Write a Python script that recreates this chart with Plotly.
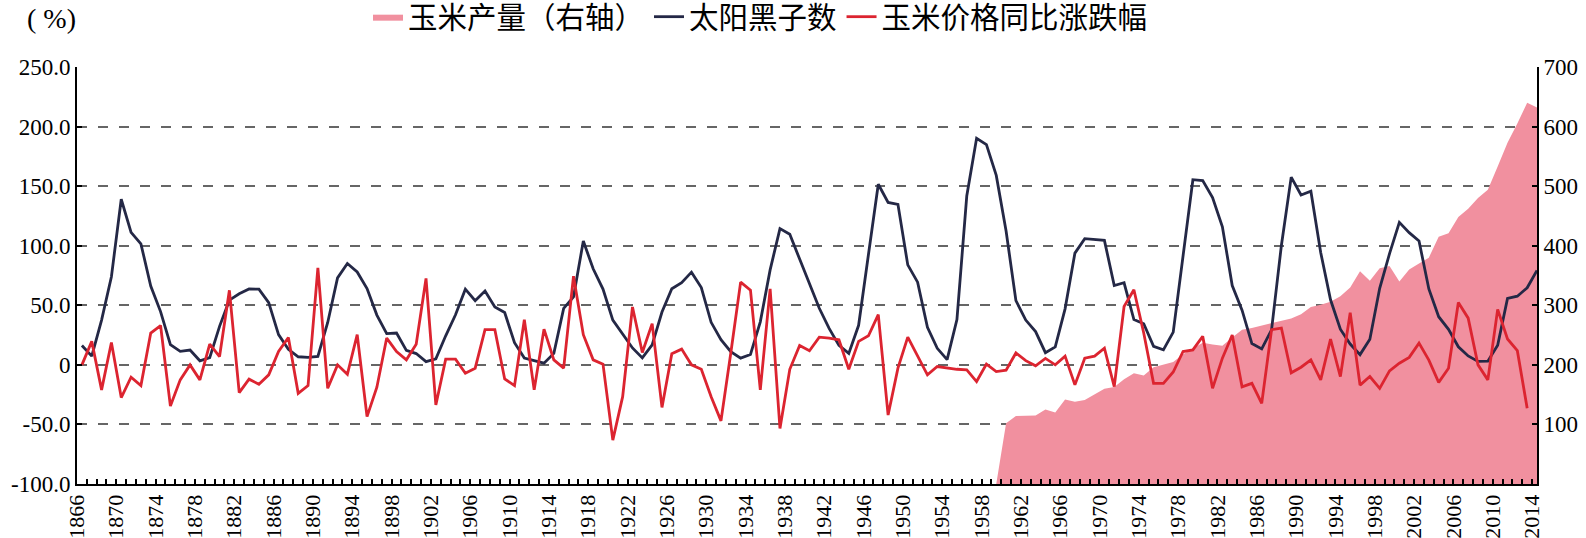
import plotly.graph_objects as go

# ---------------- data ----------------
years = list(range(1866, 2015))

sunspots = [
    16.3, 7.3, 37.6, 74.0, 139.0, 111.2, 101.6, 66.2, 44.7, 17.0,
    11.3, 12.4, 3.4, 6.0, 32.3, 54.3, 59.7, 63.7, 63.5, 52.2,
    25.4, 13.1, 6.8, 6.3, 7.1, 35.6, 73.0, 85.1, 78.0, 64.0,
    41.8, 26.2, 26.7, 12.1, 9.5, 2.7, 5.0, 24.4, 42.0, 63.5,
    53.8, 62.0, 48.5, 43.9, 18.6, 5.7, 3.6, 1.4, 9.6, 47.4,
    57.1, 103.9, 80.6, 63.6, 37.6, 26.1, 14.2, 5.8, 16.7, 44.3,
    63.9, 69.0, 77.8, 64.9, 35.7, 21.2, 11.1, 5.7, 8.7, 36.1,
    79.7, 114.4, 109.6, 88.8, 67.8, 47.5, 30.6, 16.3, 9.6, 33.2,
    92.6, 151.6, 136.3, 134.7, 83.9, 69.4, 31.5, 13.9, 4.4, 38.0,
    141.7, 190.2, 184.8, 159.0, 112.3, 53.9, 37.6, 27.9, 10.2, 15.1,
    47.0, 93.8, 105.9, 105.5, 104.5, 66.6, 68.9, 38.0, 34.5, 15.5,
    12.6, 27.5, 92.5, 155.4, 154.6, 140.4, 115.9, 66.6, 45.9, 17.9,
    13.4, 29.4, 100.2, 157.6, 142.6, 145.7, 94.3, 54.6, 29.9, 17.5,
    8.6, 21.5, 64.3, 93.3, 119.6, 111.0, 104.0, 63.7, 40.4, 29.8,
    15.2, 7.5, 2.9, 3.1, 16.5, 55.7, 57.6, 64.7, 79.3,
]

price_years = list(range(1866, 2014))
price_change = [
    0, 19.7, -21, 18.8, -27.5, -10.4, -17.4, 26.7, 33, -34.6,
    -12.6, 0, -12.6, 17.4, 7, 62.6, -23.3, -12, -16.3, -8.4,
    11.2, 23, -23.9, -17.4, 81.5, -19.7, 0, -7.9, 25.3, -43.5,
    -18.8, 22.5, 11.2, 4.2, 17.4, 72.5, -33.7, 4.8, 4.8, -7,
    -2.8, 29.5, 29.5, -11.8, -17.4, 37.9, -21, 30, 4.2, -2.8,
    74.4, 25.3, 4.2, 0.6, -63.2, -26.7, 48.6, 10.4, 34.6, -35.7,
    9.3, 13.2, 0, -3.7, -26.7, -47, 10, 69.4, 62.7, -21,
    63.8, -53.4, -3.7, 16.3, 11.8, 23.3, 22.5, 21, -3.7, 19.7,
    24.4, 42.1, -42.1, -2.8, 23.3, 7, -8.4, -1.4, -2.8, -3.7,
    -4.2, -14, 0.6, -5.6, -4.5, 10, 3.5, -0.8, 5.4, 0,
    7.3, -16.8, 5.6, 7.3, 14, -18.3, 49, 63, 26.7, -15.5,
    -15.5, -6, 11.2, 12.6, 23.9, -19.7, 5.6, 25, -18.4, -15.5,
    -32.3, 29.5, 30.9, -6.7, -2, 4.2, -12.6, 21.6, -9.8, 43.7,
    -17, -9.8, -19.7, -5, 1.4, 6.3, 18.2, 4, -14.7, -2.8,
    52.4, 39.2, 0, -12.6, 46.6, 21.7, 11.9, -36.4,
]

prod_years = list(range(1959, 2015))
production = [
    0, 102, 114, 114, 115, 125, 120, 142, 138, 141,
    151, 160, 163, 176, 186, 182, 196, 201, 205, 218,
    228, 237, 234, 232, 246, 259, 262, 266, 271, 275,
    278, 285, 297, 301, 306, 315, 330, 357, 341, 362,
    366, 340, 360, 370, 380, 415, 421, 448, 462, 480,
    494, 533, 573, 605, 640, 632,
]

label_years = list(range(1866, 2015, 4))
left_ticks = [-100, -50, 0, 50, 100, 150, 200, 250]
right_ticks = [100, 200, 300, 400, 500, 600, 700]

names = ["玉米产量（右轴）", "太阳黑子数", "玉米价格同比涨跌幅"]

# ---------------- style ----------------
PINK = "#F1909F"
NAVY = "#242846"
RED = "#DC2430"
SERIF = "Liberation Serif"
NUM_FONT = dict(family=SERIF, size=23, color="black")
X_FONT = dict(family=SERIF, size=22, color="black")
CJK = "Noto Sans CJK SC"

fig = go.Figure()
fig.add_trace(go.Scatter(
    x=prod_years, y=production, name=names[0], yaxis="y",
    mode="lines", line=dict(width=0, color=PINK),
    fill="tozeroy", fillcolor=PINK,
))
fig.add_trace(go.Scatter(
    x=years, y=sunspots, name=names[1], yaxis="y2",
    mode="lines", line=dict(color=NAVY, width=2.8),
))
fig.add_trace(go.Scatter(
    x=price_years, y=price_change, name=names[2], yaxis="y2",
    mode="lines", line=dict(color=RED, width=2.8),
))

def fmt(v):
    return "0" if v == 0 else f"{v:.1f}"

fig.update_layout(
    template="none",
    width=1586, height=538,
    font=dict(family=SERIF, color="black"),
    paper_bgcolor="white", plot_bgcolor="white",
    margin=dict(l=77, r=49, t=67, b=54, pad=0),
    showlegend=True,
    legend=dict(
        orientation="h",
        xref="container", yref="container",
        x=368 / 1586, y=1 - 17 / 538, xanchor="left", yanchor="middle",
        valign="middle",
        font=dict(family=CJK, size=29.5, color="black"),
        bgcolor="rgba(0,0,0,0)",
        itemwidth=30,
        tracegroupgap=0,
    ),
    xaxis=dict(
        range=[1865.5, 2014],
        tickmode="array",
        tickvals=[y - 0.5 for y in label_years],
        ticktext=[str(y) for y in label_years],
        tickangle=-90,
        tickfont=X_FONT,
        ticks="inside", ticklen=5, tickwidth=1.5, tickcolor="black",
        minor=dict(tickmode="linear", tick0=1865.5, dtick=1,
                   ticks="inside", ticklen=5, tickwidth=1.5, tickcolor="black",
                   showgrid=False),
        showline=True, linecolor="black", linewidth=2,
        showgrid=False, zeroline=False, automargin=False,
    ),
    yaxis=dict(
        range=[0, 700], side="right", anchor="x",
        tickmode="array", tickvals=right_ticks,
        ticktext=[str(v) for v in right_ticks],
        tickfont=NUM_FONT,
        ticks="inside", ticklen=5, tickwidth=1.5, tickcolor="black",
        showline=True, linecolor="black", linewidth=2,
        showgrid=True, gridcolor="#666666", gridwidth=1.6, griddash="10px,11px",
        zeroline=False, automargin=False,
    ),
    yaxis2=dict(
        range=[-100, 250], side="left", overlaying="y", anchor="x",
        tickmode="array", tickvals=left_ticks,
        ticktext=[fmt(v) for v in left_ticks],
        tickfont=NUM_FONT,
        ticks="inside", ticklen=5, tickwidth=1.5, tickcolor="black",
        showline=True, linecolor="black", linewidth=2,
        showgrid=False, zeroline=False, automargin=False,
    ),
    annotations=[
        dict(
            text="( %)", xref="paper", yref="paper",
            x=(51 - 77) / 1460, y=(484 - 18) / 417,
            xanchor="center", yanchor="middle",
            showarrow=False,
            font=dict(family=SERIF, size=28, color="black"),
        ),
    ],
)

fig.write_html("out.html")
